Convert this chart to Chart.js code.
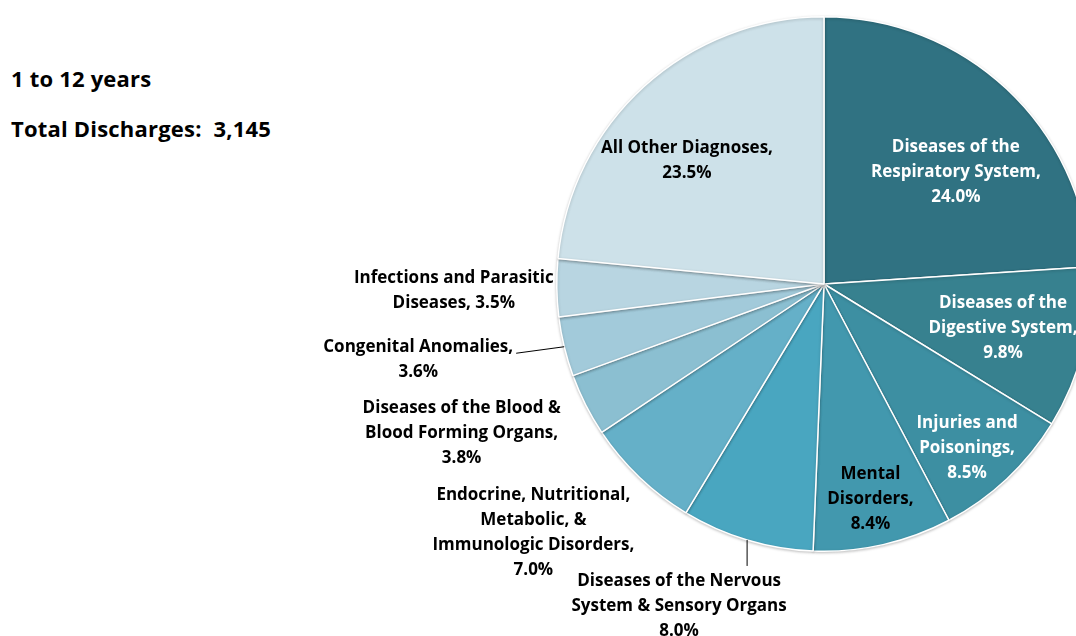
<!DOCTYPE html>
<html>
<head>
<meta charset="utf-8">
<script src="https://cdn.jsdelivr.net/npm/chart.js@4"></script>
<style>
    html, body { margin: 0; padding: 0; background: #fff; overflow: hidden; }
    body { width: 1076px; height: 636px; position: relative; font-family: "Open Sans", sans-serif; }
    #wrap { position: absolute; left: 0; top: 0; width: 1100px; height: 636px; }
    .title { position: absolute; left: 11px; font-weight: bold; font-size: 22px; color: #000; white-space: pre; letter-spacing: 0.2px; }
</style>
</head>
<body>
<div class="title" style="top: 63px;">1 to 12 years</div>
<div class="title" style="top: 113px;">Total Discharges:  3,145</div>
<div id="wrap"><canvas id="pie"></canvas></div>
<script>
// data (percent of discharges)
const categories = [
    'Diseases of the Respiratory System',
    'Diseases of the Digestive System',
    'Injuries and Poisonings',
    'Mental Disorders',
    'Diseases of the Nervous System & Sensory Organs',
    'Endocrine, Nutritional, Metabolic, & Immunologic Disorders',
    'Diseases of the Blood & Blood Forming Organs',
    'Congenital Anomalies',
    'Infections and Parasitic Diseases',
    'All Other Diagnoses'
];
const shares = [24.0, 9.8, 8.5, 8.4, 8.0, 7.0, 3.8, 3.6, 3.5, 23.5];

// how the labels are broken into lines, {v} is the value
const labelLines = [
    ['Diseases of the', 'Respiratory System,', '{v}'],
    ['Diseases of the', 'Digestive System,', '{v}'],
    ['Injuries and', 'Poisonings,', '{v}'],
    ['Mental', 'Disorders,', '{v}'],
    ['Diseases of the Nervous', 'System & Sensory Organs', '{v}'],
    ['Endocrine, Nutritional,', 'Metabolic, &', 'Immunologic Disorders,', '{v}'],
    ['Diseases of the Blood &', 'Blood Forming Organs,', '{v}'],
    ['Congenital Anomalies,', '{v}'],
    ['Infections and Parasitic', 'Diseases, {v}'],
    ['All Other Diagnoses,', '{v}']
];

const colors = ['#307282', '#37818f', '#3d8fa2', '#4298ae', '#49a6c0',
                '#65b0c8', '#8bbfd1', '#a2cada', '#b8d5e1', '#cde1e9'];
const textColors = ['#fff', '#fff', '#fff', '#000', '#000', '#000', '#000', '#000', '#000', '#000'];

// label placement: r = fraction of radius along the slice middle, dx/dy nudge
const labelPos = [
    { r: 0.65, dx: 13, dy: 15 },
    { r: 0.69, dx: 0, dy: 0 },
    { r: 0.81, dx: -5, dy: 6 },
    { r: 0.82, dx: -2, dy: 1 },
    { r: 1, dx: -68, dy: 66, leader: 'down' },
    { r: 1, dx: -106, dy: 55 },
    { r: 1, dx: -124, dy: 28 },
    { r: 1, dx: -146, dy: 13, leader: 'side' },
    { r: 1, dx: -103, dy: 3 },
    { r: 0.69, dx: -13, dy: 13 }
];

const FONT = 'bold 17px "Open Sans", sans-serif';
const LINE_H = 25;

const sliceLabels = {
    id: 'sliceLabels',
    afterDatasetsDraw(chart) {
        const ctx = chart.ctx;
        const meta = chart.getDatasetMeta(0);
        ctx.save();
        ctx.font = FONT;
        ctx.textAlign = 'center';
        ctx.textBaseline = 'middle';
        meta.data.forEach((arc, i) => {
            const p = arc.getProps(['x', 'y', 'startAngle', 'endAngle', 'outerRadius'], true);
            const mid = (p.startAngle + p.endAngle) / 2;
            const cfg = labelPos[i];
            const ex = p.x + Math.cos(mid) * p.outerRadius;
            const ey = p.y + Math.sin(mid) * p.outerRadius;
            const cx = p.x + Math.cos(mid) * p.outerRadius * cfg.r + cfg.dx;
            const cy = p.y + Math.sin(mid) * p.outerRadius * cfg.r + cfg.dy;
            const lines = labelLines[i].map(s => s.replace('{v}', shares[i].toFixed(1) + '%'));
            const top = cy - (lines.length - 1) * LINE_H / 2;

            if (cfg.leader) {
                ctx.strokeStyle = '#000';
                ctx.lineWidth = 1;
                ctx.beginPath();
                ctx.moveTo(ex, ey);
                if (cfg.leader === 'down') {
                    ctx.lineTo(ex, top - 15);
                } else {
                    const w = ctx.measureText(lines[0]).width;
                    ctx.lineTo(cx + w / 2 + 3, top + 6);
                }
                ctx.stroke();
            }

            ctx.fillStyle = textColors[i];
            lines.forEach((s, k) => ctx.fillText(s, cx, top + k * LINE_H));
        });
        ctx.restore();
    }
};

const pieShadow = {
    id: 'pieShadow',
    beforeDatasetsDraw(chart) {
        const ctx = chart.ctx;
        ctx.save();
        ctx.shadowColor = 'rgba(0,0,0,0.22)';
        ctx.shadowBlur = 3;
        ctx.shadowOffsetX = 0;
        ctx.shadowOffsetY = 1;
    },
    afterDatasetsDraw(chart) {
        chart.ctx.restore();
    }
};

new Chart(document.getElementById('pie'), {
    type: 'pie',
    data: {
        labels: categories,
        datasets: [{
            data: shares,
            backgroundColor: colors,
            borderColor: '#fff',
            borderWidth: 1.5
        }]
    },
    options: {
        responsive: true,
        maintainAspectRatio: false,
        animation: false,
        layout: { padding: { left: 556, right: 8, top: 15, bottom: 83 } },
        plugins: {
            legend: { display: false },
            tooltip: { enabled: false }
        }
    },
    plugins: [pieShadow, sliceLabels]
});
</script>
</body>
</html>
